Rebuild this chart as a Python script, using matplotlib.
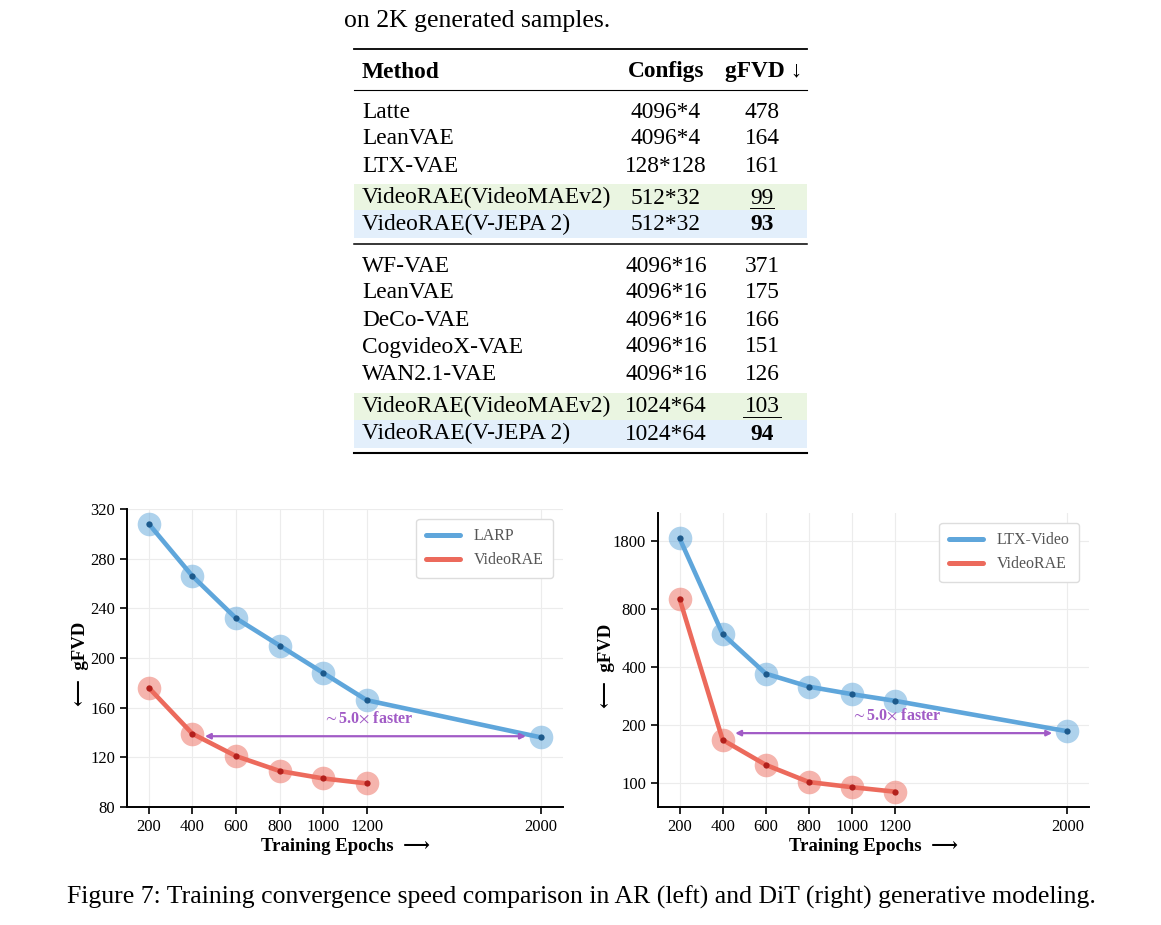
import numpy as np
import matplotlib
matplotlib.use("Agg")
from matplotlib import pyplot as plt

plt.rcParams['font.family'] = ['Liberation Serif', 'DejaVu Serif']
plt.rcParams['mathtext.fontset'] = 'stix'

# --- table data ---
table_header = ['Method', 'Configs', 'gFVD \u2193']
methods_a = ['Latte', 'LeanVAE', 'LTX-VAE', 'VideoRAE(VideoMAEv2)', 'VideoRAE(V-JEPA 2)']
configs_a = ['4096*4', '4096*4', '128*128', '512*32', '512*32']
gfvd_a = [478, 164, 161, 99, 93]
methods_b = ['WF-VAE', 'LeanVAE', 'DeCo-VAE', 'CogvideoX-VAE', 'WAN2.1-VAE',
             'VideoRAE(VideoMAEv2)', 'VideoRAE(V-JEPA 2)']
configs_b = ['4096*16', '4096*16', '4096*16', '4096*16', '4096*16', '1024*64', '1024*64']
gfvd_b = [371, 175, 166, 151, 126, 103, 94]

# --- chart data ---
epochs = [200, 400, 600, 800, 1000, 1200]
epochs_base = [200, 400, 600, 800, 1000, 1200, 2000]
ar_larp = [308, 266, 232, 210, 188, 166, 136]
ar_videorae = [176, 139, 121, 109, 103, 99]
dit_ltx = [1850, 590, 368, 315, 288, 266, 185]
dit_videorae = [900, 167, 124, 101, 95, 90]
speedup_text = r'$\sim$5.0$\times$ faster'

BLUE = '#5fa6db'
RED = '#ec6a5c'
DARK_BLUE = '#1d5a8c'
DARK_RED = '#b3201c'
PURPLE = '#a15bc6'

W, H = 1161, 925
fig = plt.figure(figsize=(W / 100, H / 100), dpi=100)

# overlay in pixel coords for table + caption
bg = fig.add_axes([0, 0, 1, 1])
bg.set_xlim(0, W)
bg.set_ylim(H, 0)
bg.axis('off')

TS = 16.8
bg.text(344, 27, 'on 2K generated samples.', fontsize=18.5, va='baseline', ha='left')

x0, x1 = 354, 807
xm, xc, xg = 362, 666, 762
bg.plot([x0, x1], [49, 49], color='k', lw=1.3)
bg.plot([x0, x1], [90, 90], color='k', lw=0.8)
bg.plot([x0, x1], [244, 244], color='k', lw=1.1)
bg.plot([x0, x1], [453, 453], color='k', lw=1.5)

BL = 7.5  # baseline offset below row centre
bg.text(xm, 70 + BL, table_header[0], fontsize=TS, weight='bold', va='baseline', ha='left')
bg.text(xc, 70 + BL, table_header[1], fontsize=TS, weight='bold', va='baseline', ha='center')
bg.text(xg + 2, 70 + BL, table_header[2], fontsize=TS, weight='bold', va='baseline', ha='center')


def draw_group(rows_y, methods, configs, scores, green_band, blue_band):
    bg.fill_between([x0, x1], green_band[0], green_band[1], color='#eaf5e1', lw=0)
    bg.fill_between([x0, x1], blue_band[0], blue_band[1], color='#e3effb', lw=0)
    best = min(scores)
    second = sorted(scores)[1]
    for y, m, c, s in zip(rows_y, methods, configs, scores):
        bg.text(xm, y + BL, m, fontsize=TS, va='baseline', ha='left')
        bg.text(xc, y + BL, c, fontsize=TS, va='baseline', ha='center')
        bg.text(xg, y + BL, str(s), fontsize=TS, va='baseline', ha='center',
                weight='bold' if s == best else 'normal')
        if s == second:
            half = 6.2 * len(str(s))
            bg.plot([xg - half, xg + half], [y + 12, y + 12], color='k', lw=0.7)


draw_group([110, 137, 164, 196, 223], methods_a, configs_a, gfvd_a, (184, 210), (210, 238))
draw_group([264, 291, 318, 345, 372, 405, 432], methods_b, configs_b, gfvd_b, (393, 420), (420, 448))

bg.text(581, 904, 'Figure 7: Training convergence speed comparison in AR (left) and DiT (right) generative modeling.',
        fontsize=18.5, va='baseline', ha='center')


def draw_panel(ax, base_vals, rae_vals, base_name, arrow_y):
    ax.grid(True, color='#ececec', lw=0.8, zorder=0)
    for ep, v, c, dark, lab in [(epochs_base, base_vals, BLUE, DARK_BLUE, base_name),
                                (epochs, rae_vals, RED, DARK_RED, 'VideoRAE')]:
        ax.plot(ep, v, ls='', marker='o', ms=17, color=c, alpha=0.5, mec='none', zorder=2)
        ax.plot(ep, v, color=c, lw=3.3, label=lab, zorder=3, solid_capstyle='round')
        ax.plot(ep, v, ls='', marker='o', ms=4.5, color=dark, mec='none', zorder=4)
    ax.annotate('', xy=(epochs_base[-1], arrow_y), xytext=(epochs[1], arrow_y),
                arrowprops=dict(arrowstyle='<|-|>', color=PURPLE, lw=1.6,
                                mutation_scale=8, shrinkA=9, shrinkB=11), zorder=5)
    ax.annotate(speedup_text, xy=(1205, arrow_y), xytext=(0, 7), textcoords='offset points',
                ha='center', va='bottom', color=PURPLE, fontsize=11.5, weight='bold')
    ax.set_xlim(100, 2100)
    ax.set_xticks(epochs_base)
    ax.set_xticklabels([str(e) for e in epochs_base])
    ax.spines['top'].set_visible(False)
    ax.spines['right'].set_visible(False)
    for s in ['left', 'bottom']:
        ax.spines[s].set_linewidth(1.4)
    ax.tick_params(labelsize=12, width=1.2, length=5, direction='out')
    ax.set_xlabel('Training Epochs  \u27f6', fontsize=13.5, weight='bold', labelpad=2)
    ax.set_ylabel('\u27f5  gFVD', fontsize=13.5, weight='bold')
    leg = ax.legend(loc='upper right', fontsize=11.5, handlelength=2.1, borderpad=0.6,
                    labelspacing=0.5, framealpha=1, edgecolor='#dddddd', fancybox=True,
                    borderaxespad=0.6, handletextpad=0.9)
    for t in leg.get_texts():
        t.set_color('#555555')
    for l in leg.get_lines():
        l.set_linewidth(3.6)


ax1 = fig.add_axes([127 / W, 1 - 807 / H, 436 / W, 298 / H])
draw_panel(ax1, ar_larp, ar_videorae, 'LARP', 137)
ax1.set_ylim(80, 320)
ax1.set_yticks([80, 120, 160, 200, 240, 280, 320])
ax1.yaxis.set_label_coords(-0.087, 0.48)

ax2 = fig.add_axes([658 / W, 1 - 807 / H, 431 / W, 294 / H])
ax2.set_yscale('log')
draw_panel(ax2, dit_ltx, dit_videorae, 'LTX-Video', 181)
ax2.set_ylim(75, 2500)
ax2.set_yticks([100, 200, 400, 800, 1800])
ax2.set_yticklabels(['100', '200', '400', '800', '1800'])
ax2.yaxis.set_minor_locator(matplotlib.ticker.NullLocator())
ax2.yaxis.set_label_coords(-0.1, 0.48)

fig.savefig('out.png', dpi=100)
